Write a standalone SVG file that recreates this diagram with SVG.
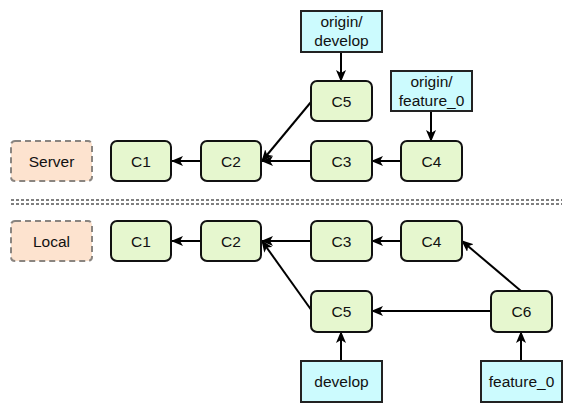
<svg xmlns="http://www.w3.org/2000/svg" width="572" height="412" viewBox="0 0 572 412">
<defs>
<style>
.c rect{fill:#e6f7cf;stroke:#111;stroke-width:2}
.b rect{fill:#ccfbfe;stroke:#222;stroke-width:2}
.s rect{fill:#fde3cf;stroke:#8a8580;stroke-width:2;stroke-dasharray:6 4}
text{font-family:"Liberation Sans",Arial,sans-serif;font-size:15.5px;fill:#111;text-anchor:middle}
.e{stroke:#000;stroke-width:2;fill:none;marker-end:url(#ah)}
.sep{stroke:#000;stroke-width:1;stroke-dasharray:3 2}
</style>
<marker id="ah" viewBox="0 0 12 10" refX="11" refY="5" markerWidth="12" markerHeight="10" markerUnits="userSpaceOnUse" orient="auto">
<path d="M0,0 L12,5 L0,10 L3,5 Z" fill="#000"/>
</marker>
</defs>
<rect width="572" height="412" fill="#fff"/>
<g id="separator">
<line class="sep" x1="11" y1="200" x2="562" y2="200"/>
<line class="sep" x1="11" y1="204" x2="562" y2="204"/>
</g>
<g id="connectors">
<line class="e" x1="201" y1="161" x2="172" y2="161"/>
<line class="e" x1="311" y1="161" x2="262" y2="161"/>
<line class="e" x1="311" y1="102" x2="262" y2="161"/>
<line class="e" x1="401" y1="161" x2="372" y2="161"/>
<line class="e" x1="341" y1="52" x2="341" y2="81"/>
<line class="e" x1="431" y1="111" x2="431" y2="141"/>
<line class="e" x1="201" y1="241" x2="172" y2="241"/>
<line class="e" x1="311" y1="241" x2="262" y2="241"/>
<line class="e" x1="312" y1="311" x2="262" y2="241"/>
<line class="e" x1="401" y1="241" x2="372" y2="241"/>
<line class="e" x1="521" y1="291" x2="462" y2="241"/>
<line class="e" x1="491" y1="311" x2="372" y2="311"/>
<line class="e" x1="341" y1="361" x2="341" y2="332"/>
<line class="e" x1="521" y1="361" x2="521" y2="332"/>
</g>
<g id="server" class="s"><rect x="11" y="141" width="81" height="40" rx="4"/><text x="51.5" y="166.5">Server</text></g>
<g id="s_c1" class="c"><rect x="111" y="141" width="60" height="40" rx="6"/><text x="141" y="166.5">C1</text></g>
<g id="s_c2" class="c"><rect x="201" y="141" width="60" height="40" rx="6"/><text x="231" y="166.5">C2</text></g>
<g id="s_c3" class="c"><rect x="311" y="141" width="61" height="40" rx="6"/><text x="341.5" y="166.5">C3</text></g>
<g id="s_c4" class="c"><rect x="401" y="141" width="61" height="40" rx="6"/><text x="431.5" y="166.5">C4</text></g>
<g id="s_c5" class="c"><rect x="311" y="81" width="61" height="40" rx="6"/><text x="341.5" y="106.5">C5</text></g>
<g id="origin_develop" class="b"><rect x="301" y="11" width="81" height="41"/><text x="341.5" y="27">origin/</text><text x="341.5" y="46">develop</text></g>
<g id="origin_feature_0" class="b"><rect x="391" y="71" width="81" height="40"/><text x="431.5" y="87">origin/</text><text x="431.5" y="106">feature_0</text></g>
<g id="local" class="s"><rect x="11" y="221" width="81" height="40" rx="4"/><text x="51.5" y="246.5">Local</text></g>
<g id="l_c1" class="c"><rect x="111" y="221" width="60" height="40" rx="6"/><text x="141" y="246.5">C1</text></g>
<g id="l_c2" class="c"><rect x="201" y="221" width="60" height="40" rx="6"/><text x="231" y="246.5">C2</text></g>
<g id="l_c3" class="c"><rect x="311" y="221" width="61" height="40" rx="6"/><text x="341.5" y="246.5">C3</text></g>
<g id="l_c4" class="c"><rect x="401" y="221" width="61" height="40" rx="6"/><text x="431.5" y="246.5">C4</text></g>
<g id="l_c5" class="c"><rect x="311" y="291" width="61" height="41" rx="6"/><text x="341.5" y="317">C5</text></g>
<g id="l_c6" class="c"><rect x="491" y="291" width="61" height="41" rx="6"/><text x="521.5" y="317">C6</text></g>
<g id="develop" class="b"><rect x="301" y="361" width="81" height="41"/><text x="341.5" y="387">develop</text></g>
<g id="feature_0" class="b"><rect x="481" y="361" width="81" height="41"/><text x="521.5" y="387">feature_0</text></g>
</svg>
